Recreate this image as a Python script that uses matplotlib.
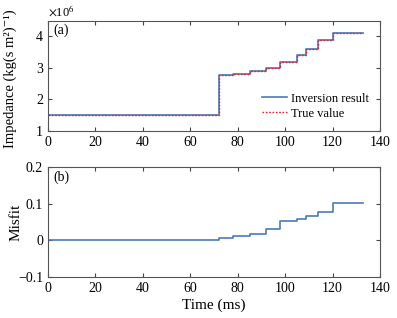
import matplotlib
matplotlib.use("Agg")
import matplotlib.pyplot as plt
import numpy as np

# step boundaries (ms) and layer values
t_edges = [0, 72, 78, 85, 92, 98, 105, 109, 114, 120, 133]
impedance = [1.5, 2.77, 2.82, 2.89, 3.0, 3.2, 3.4, 3.61, 3.88, 4.1]  # x1e6
misfit = [0.0, 0.005, 0.011, 0.018, 0.031, 0.053, 0.058, 0.067, 0.077, 0.103]

plt.rcParams['font.family'] = ['Liberation Serif', 'DejaVu Serif']
plt.rcParams['mathtext.fontset'] = 'stix'

def stairs(vals):
  x = np.repeat(t_edges, 2)[1:-1]
  y = np.repeat(vals, 2)
  return x, y

def style(ax):
  ax.tick_params(direction='in', top=True, right=True, labelsize=10, length=3,
                 color='#444444')
  for s in ax.spines.values():
    s.set_color('#555555')
    s.set_linewidth(0.8)

fig = plt.figure(figsize=(3.97, 3.18), dpi=100)
ax1 = fig.add_axes([0.121, 0.588, 0.836, 0.347])
ax2 = fig.add_axes([0.121, 0.130, 0.836, 0.344])

x, y = stairs(impedance)
ax1.plot(x, y, color='#4a7ab8', lw=1.2, label='Inversion result')
ax1.plot(x, y, color='#e8212a', lw=1.0, ls=(0, (1.2, 1.2)), label='True value')
ax1.set_xlim(0, 140)
ax1.set_ylim(1, 4.5)
ax1.set_yticks([1, 2, 3, 4])
ax1.set_xticks(range(0, 141, 20))
ax1.set_ylabel('Impedance (kg(s m\u00b2)\u207b\u00b9)', fontsize=10.5)
ax1.yaxis.set_label_coords(-0.095, 0.47)
ax1.text(0.015, 0.97, '(a)', transform=ax1.transAxes, va='top', fontsize=10)
ax1.text(0.0, 1.01, '$\\times$10$^6$', transform=ax1.transAxes, va='bottom',
         fontsize=9)
ax1.legend(loc='lower right', frameon=False, fontsize=9, handlelength=2.0,
           borderaxespad=0.5, labelspacing=0.25, handletextpad=0.3)
style(ax1)

x, y = stairs(misfit)
ax2.plot(x, y, color='#4a7ab8', lw=1.2)
ax2.set_xlim(0, 140)
ax2.set_ylim(-0.1, 0.2)
ax2.set_yticks([-0.1, 0, 0.1, 0.2])
ax2.set_yticklabels(['\u22120.1', '0', '0.1', '0.2'])
ax2.set_xticks(range(0, 141, 20))
ax2.set_ylabel('Misfit', fontsize=11)
ax2.yaxis.set_label_coords(-0.078, 0.5)
ax2.set_xlabel('Time (ms)', fontsize=11, labelpad=3)
ax2.text(0.015, 0.97, '(b)', transform=ax2.transAxes, va='top', fontsize=10)
style(ax2)

fig.savefig('out.png', dpi=100)
